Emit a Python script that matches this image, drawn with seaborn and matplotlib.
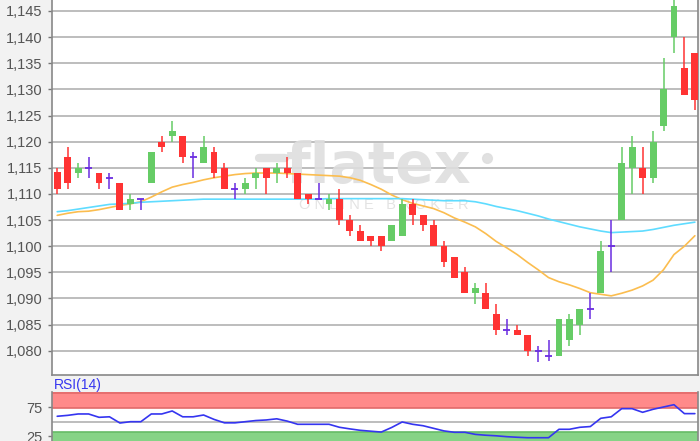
import matplotlib
matplotlib.use("Agg")
import matplotlib.pyplot as plt
import numpy as np
import pandas as pd
import seaborn as sns

# candle data
opens = [1.1142, 1.117, 1.114, 1.115, 1.114, 1.113, 1.112, 1.108, 1.109, 1.112,
         1.120, 1.121, 1.121, 1.117, 1.116, 1.118, 1.115, 1.111, 1.111, 1.113,
         1.115, 1.114, 1.115, 1.114, 1.110, 1.109, 1.108, 1.109, 1.105, 1.103,
         1.102, 1.102, 1.101, 1.102, 1.108, 1.106, 1.104, 1.100, 1.098, 1.095,
         1.091, 1.091, 1.087, 1.084, 1.084, 1.083, 1.080, 1.079, 1.079, 1.082,
         1.085, 1.088, 1.091, 1.100, 1.105, 1.115, 1.115, 1.113, 1.123, 1.140,
         1.134, 1.137]
highs = [1.115, 1.119, 1.116, 1.117, 1.114, 1.114, 1.112, 1.110, 1.109, 1.118,
         1.121, 1.124, 1.121, 1.118, 1.121, 1.119, 1.116, 1.112, 1.113, 1.115,
         1.115, 1.116, 1.117, 1.114, 1.110, 1.112, 1.110, 1.111, 1.106, 1.104,
         1.102, 1.102, 1.104, 1.109, 1.109, 1.106, 1.105, 1.101, 1.098, 1.096,
         1.093, 1.093, 1.089, 1.086, 1.085, 1.083, 1.081, 1.082, 1.086, 1.087,
         1.088, 1.091, 1.101, 1.105, 1.119, 1.121, 1.119, 1.122, 1.136, 1.149,
         1.140, 1.137]
lows = [1.110, 1.111, 1.113, 1.113, 1.111, 1.111, 1.107, 1.107, 1.107, 1.112,
        1.118, 1.120, 1.116, 1.113, 1.116, 1.113, 1.111, 1.109, 1.110, 1.111,
        1.110, 1.112, 1.113, 1.109, 1.108, 1.109, 1.107, 1.104, 1.102, 1.101,
        1.100, 1.099, 1.101, 1.102, 1.104, 1.103, 1.100, 1.096, 1.094, 1.091,
        1.089, 1.088, 1.083, 1.083, 1.083, 1.079, 1.0778, 1.078, 1.079, 1.081,
        1.083, 1.086, 1.091, 1.095, 1.105, 1.110, 1.110, 1.112, 1.122, 1.137,
        1.129, 1.126]
closes = [1.111, 1.112, 1.115, 1.115, 1.112, 1.113, 1.107, 1.109, 1.109, 1.118,
          1.119, 1.122, 1.117, 1.117, 1.119, 1.114, 1.111, 1.111, 1.112, 1.114,
          1.113, 1.115, 1.114, 1.109, 1.109, 1.109, 1.109, 1.105, 1.103, 1.101,
          1.101, 1.100, 1.104, 1.108, 1.106, 1.104, 1.100, 1.097, 1.094, 1.091,
          1.092, 1.088, 1.084, 1.084, 1.083, 1.080, 1.080, 1.079, 1.086, 1.086,
          1.088, 1.088, 1.099, 1.100, 1.116, 1.119, 1.113, 1.120, 1.130, 1.146,
          1.129, 1.128]

# moving averages
ma_short = [1.1059, 1.1063, 1.1066, 1.1067, 1.1070, 1.1074, 1.1078, 1.1081, 1.1085, 1.1094,
            1.1104, 1.1113, 1.1118, 1.1122, 1.1127, 1.1131, 1.1134, 1.1137, 1.1139, 1.1140,
            1.1140, 1.1140, 1.1139, 1.1138, 1.1137, 1.1136, 1.1135, 1.1134, 1.1131, 1.1126,
            1.1118, 1.1109, 1.1098, 1.1089, 1.1082, 1.1077, 1.1072, 1.1064, 1.1054, 1.1046,
            1.1037, 1.1024, 1.1009, 1.0997, 1.0984, 1.0969, 1.0955, 1.0940, 1.0932, 1.0926,
            1.0919, 1.0911, 1.0908, 1.0905, 1.0910, 1.0916, 1.0924, 1.0935, 1.0955, 1.0984,
            1.1000, 1.1020]
ma_long = [1.1066, 1.1068, 1.1071, 1.1074, 1.1077, 1.1080, 1.1081, 1.1082, 1.1084, 1.1085,
           1.1086, 1.1087, 1.1088, 1.1089, 1.1090, 1.1090, 1.1090, 1.1090, 1.1090, 1.1090,
           1.1090, 1.1090, 1.1090, 1.1090, 1.1090, 1.1090, 1.1091, 1.1091, 1.1091, 1.1091,
           1.1091, 1.1091, 1.1091, 1.1091, 1.1090, 1.1089, 1.1088, 1.1087, 1.1087, 1.1087,
           1.1085, 1.1081, 1.1076, 1.1072, 1.1068, 1.1063, 1.1058, 1.1052, 1.1047, 1.1042,
           1.1037, 1.1033, 1.1029, 1.1026, 1.1027, 1.1028, 1.1029, 1.1032, 1.1036, 1.1040,
           1.1043, 1.1046]

rsi = [59.4, 61, 63.4, 63.4, 57.6, 58.5, 47.7, 50, 50, 63.4,
       63.4, 68.6, 58.5, 58.5, 61.6, 54, 48, 48, 50, 52,
       53, 55, 51, 45.5, 45.5, 45.5, 45.5, 40.3, 37.5, 35,
       33.5, 32, 40, 49.5, 45.5, 43, 38.5, 34, 31.6, 31.6,
       28, 26.5, 25.5, 24, 23, 22.2, 22.2, 22.2, 36.8, 36.8,
       40.3, 41.6, 55.9, 58.5, 72.6, 72.6, 66.3, 71.5, 75.5, 79.5,
       64, 64]

price_ticks = [1.080, 1.085, 1.090, 1.095, 1.100, 1.105, 1.110, 1.115,
               1.120, 1.125, 1.130, 1.135, 1.140, 1.145]
rsi_ticks = [25, 75]

sns.set_style("white")
plt.rcParams['font.family'] = ['Liberation Sans', 'DejaVu Sans']

bg = '#f2f2f2'
fig = plt.figure(figsize=(7, 4.41), dpi=100, facecolor=bg)
ax = fig.add_axes([52 / 700, 1 - 375 / 441, 646 / 700, 375 / 441])
ax2 = fig.add_axes([52 / 700, 0, 646 / 700, 1 - 392.3 / 441])

df = pd.DataFrame({'i': np.arange(len(opens)), 'open': opens, 'high': highs,
                   'low': lows, 'close': closes, 'ma_short': ma_short,
                   'ma_long': ma_long, 'rsi': rsi})

# grid
for t in price_ticks:
    ax.axhline(t, color='#b2b2b2', lw=1.2, zorder=0)

# watermark
wm = '#dedede'
ax.text(0.505, 0.513, 'flatex', transform=ax.transAxes, fontsize=41,
        fontweight='bold', family='DejaVu Sans', color=wm,
        ha='center', va='baseline', zorder=1, alpha=0.9)
ax.plot([0.32, 0.36], [0.58, 0.58], transform=ax.transAxes, color=wm,
        lw=6, solid_capstyle='round', zorder=1, alpha=0.9)
ax.plot([0.673], [0.58], 'o', transform=ax.transAxes, color=wm,
        ms=7, zorder=1, alpha=0.9)
ax.text(0.514, 0.453, 'O N L I N E   B R O K E R', transform=ax.transAxes,
        fontsize=10.5, color='#e3e3e3', ha='center', va='center', zorder=1)

# moving averages
sns.lineplot(data=df, x='i', y='ma_short', ax=ax, color='#fbbd4f', lw=1.2, zorder=2)
sns.lineplot(data=df, x='i', y='ma_long', ax=ax, color='#5fdcff', lw=1.2, zorder=2)

# candles
green, red, doji = '#66cc66', '#ff3333', '#6a2ce0'
w = 0.66
for _, r in df.iterrows():
    if r['close'] > r['open']:
        c = green
    elif r['close'] < r['open']:
        c = red
    else:
        c = doji
    ax.vlines(r['i'], r['low'], r['high'], color=c, lw=1.1, zorder=3)
    if c == doji:
        ax.hlines(r['close'], r['i'] - w / 2, r['i'] + w / 2, color=c, lw=1.3, zorder=3)
    else:
        ax.bar(r['i'], abs(r['close'] - r['open']), bottom=min(r['open'], r['close']),
               width=w, color=c, linewidth=0, zorder=3)

ax.set_xlim(-0.5, 61.3)
ax.set_ylim(1.07536, 1.1471)
ax.set_yticks(price_ticks)
ax.set_yticklabels([f"{t:.3f}".replace('.', ',') for t in price_ticks])
ax.set_xticks([])
ax.set_xlabel('')
ax.set_ylabel('')
ax.set_facecolor('white')
ax.tick_params(axis='y', left=True, length=3, width=1, color='#777777', pad=4,
               labelsize=10.5, labelcolor='#555555')
ax.spines['top'].set_visible(False)
for s in ['left', 'bottom', 'right']:
    ax.spines[s].set_color('#888888')
    ax.spines[s].set_linewidth(1.2)

# RSI panel
ax2.axhspan(74, 101, color='#ff8a8a', lw=0, zorder=0)
ax2.axhline(74, color='#e26a6a', lw=1.2, zorder=0.5)
ax2.axhline(99.5, color='#e26a6a', lw=1.2, zorder=0.5)
ax2.axhspan(0, 32.5, color='#86d386', lw=0, zorder=0)
ax2.axhline(32.5, color='#66bb66', lw=1.2, zorder=0.5)
ax2.axhline(50, color='#b2b2b2', lw=1.2, zorder=0.5)
sns.lineplot(data=df, x='i', y='rsi', ax=ax2, color='#3535f0', lw=1.2, zorder=2)
ax2.set_xlim(-0.5, 61.3)
ax2.set_ylim(16.5, 101)
ax2.set_yticks(rsi_ticks)
ax2.set_yticklabels([str(t) for t in rsi_ticks])
ax2.set_xticks([])
ax2.set_xlabel('')
ax2.set_ylabel('')
ax2.set_facecolor('white')
ax2.tick_params(axis='y', left=True, length=3, width=1, color='#777777', pad=4,
                labelsize=10.5, labelcolor='#555555')
ax2.spines['top'].set_visible(False)
ax2.spines['bottom'].set_visible(False)
for s in ['left', 'right']:
    ax2.spines[s].set_color('#888888')
    ax2.spines[s].set_linewidth(1.2)

fig.text(54 / 700, 1 - 384.5 / 441, 'RSI(14)', color='#3535f0', fontsize=10,
         ha='left', va='center')

fig.savefig('out.png', dpi=100, facecolor=bg)
